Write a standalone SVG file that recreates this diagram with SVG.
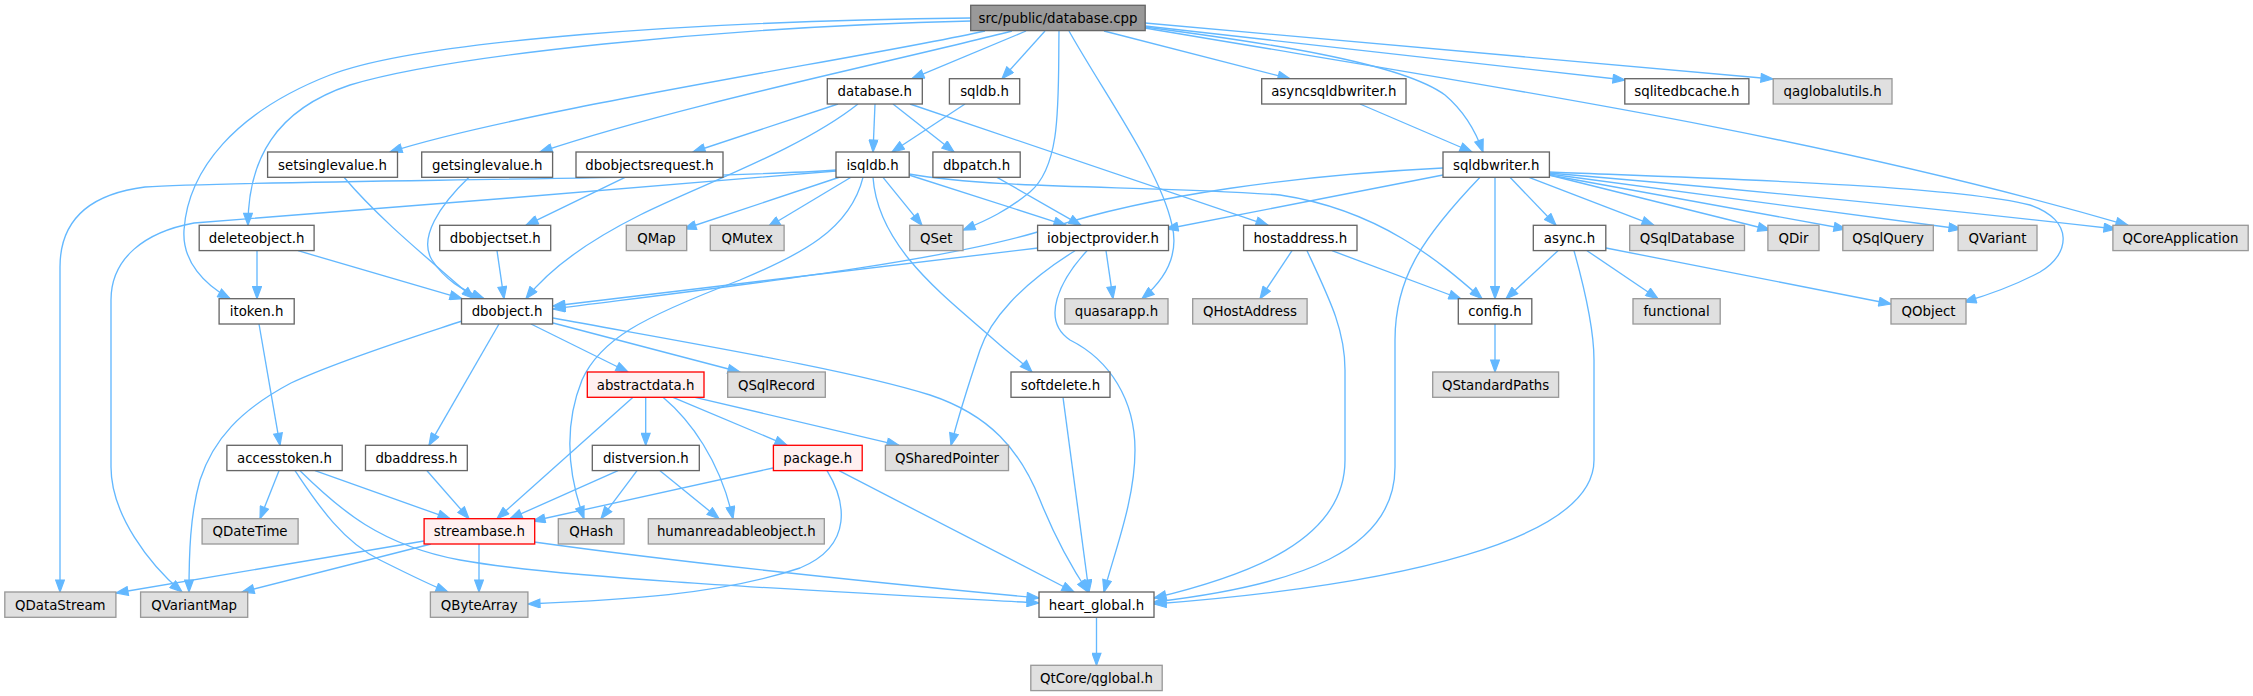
<svg xmlns="http://www.w3.org/2000/svg" width="2253" height="696" viewBox="0 0 2253 696">
<style>
rect{stroke-width:1.33}
.n rect{fill:#ffffff;stroke:#666666}
.x rect{fill:#e0e0e0;stroke:#999999}
.r rect{fill:#fff0f0;stroke:#ff0000}
.root rect{fill:#999999;stroke:#666666}
text{font-family:"DejaVu Sans","Liberation Sans",sans-serif;font-size:13.33px;text-anchor:middle;fill:#000000}
#edges path{fill:none;stroke:#63b8ff;stroke-width:1.33;marker-end:url(#a)}
</style>
<defs>
<marker id="a" markerUnits="userSpaceOnUse" viewBox="0 0 14 10" markerWidth="14" markerHeight="10" refX="13" refY="5" orient="auto">
<path d="M1,0.6 L13,5 L1,9.4 z" fill="#63b8ff" stroke="#63b8ff" stroke-width="1.2"/>
</marker>
</defs>
<rect width="2253" height="696" fill="#ffffff"/>
<g id="edges">
<path d="M1026,31 L912,78.7"/>
<path d="M1045,31 L1002,78.7"/>
<path d="M1059,31 C1058,100 1062,165 1030,192 C1008,210 988,220 963,230"/>
<path d="M1069,31 C1105,95 1160,170 1172,225 C1180,258 1162,282 1142,298.7"/>
<path d="M1104,31 L1290,78.7"/>
<path d="M1145,27 C1260,42 1400,62 1445,95 C1465,112 1476,132 1483,152"/>
<path d="M1145,26 L1625,80"/>
<path d="M1145,23 L1773,79"/>
<path d="M1145,28 C1450,80 1800,130 2128,225.3"/>
<path d="M985,31 C880,55 520,110 390,152"/>
<path d="M1012,31 C900,60 680,105 540,152"/>
<path d="M971,21 C720,27 450,55 350,85 C275,110 248,160 248,225.3"/>
<path d="M971,18 C700,21 420,40 330,75 C235,112 188,170 184,230 C182,262 205,285 230,298.7"/>
<path d="M875,104 L873,152"/>
<path d="M893,104 L954,152"/>
<path d="M910,104 L1268,225.3"/>
<path d="M838,104 L693,152"/>
<path d="M858,104 C800,150 700,185 640,215 C590,240 550,268 526,298.7"/>
<path d="M965,104 L892,152"/>
<path d="M1360,104 L1472,152"/>
<path d="M625,177.3 L526,225.3"/>
<path d="M344,177.3 C380,220 430,260 474,298.7"/>
<path d="M469,177.3 C440,205 418,238 432,260 C445,280 462,290 484,298.7"/>
<path d="M257,250.7 L257,298.7"/>
<path d="M298,250.7 L462,298.7"/>
<path d="M497,250.7 L504,298.7"/>
<path d="M836,170 C700,180 250,180 145,187 C90,194 60,220 60,267 L60,592"/>
<path d="M836,171 C760,178 300,215 194,223 C145,232 111,258 111,300 L111,467 C111,515 150,565 182,592"/>
<path d="M840,177 L684,229"/>
<path d="M851,177.3 L768,227"/>
<path d="M883,177.3 L922,225.3"/>
<path d="M909,175 L1066,225.3"/>
<path d="M909,174 C1000,190 1150,185 1280,195 C1380,210 1440,262 1482,298.7"/>
<path d="M863,177.3 C850,230 800,255 740,280 C640,318 600,340 582,380 C562,430 570,480 584,518.7"/>
<path d="M873,177.3 C878,250 950,300 1000,345 C1014,357 1024,364 1032,372"/>
<path d="M997,177.3 L1081,225.3"/>
<path d="M1038,248 L553,306"/>
<path d="M1443,168 C1300,175 1150,195 1050,228 C950,262 700,290 553,309"/>
<path d="M1443,175 L1166,229"/>
<path d="M1495,177.3 L1495,298.7"/>
<path d="M1480,177.3 C1420,240 1395,280 1395,340 L1395,467 C1395,550 1300,585 1154,602"/>
<path d="M1510,177.3 L1556,225.3"/>
<path d="M1529,177.3 L1654,225.3"/>
<path d="M1549,175 L1770,230"/>
<path d="M1549,175 L1846,229"/>
<path d="M1549,174 L1961,229"/>
<path d="M1549,173 C1750,190 1950,210 2116,229"/>
<path d="M1549,172 C1700,178 1950,185 2030,205 C2075,220 2070,255 2040,272 C2012,287 1988,295 1964,302"/>
<path d="M1558,250.7 L1506,298.7"/>
<path d="M1587,250.7 L1658,298.7"/>
<path d="M1606,248 L1891,304"/>
<path d="M1574,250.7 C1585,290 1594,330 1594,360 L1594,460 C1594,540 1400,585 1154,604"/>
<path d="M1292,250.7 L1260,298.7"/>
<path d="M1332,250.7 L1461,299"/>
<path d="M1307,250.7 C1330,300 1345,330 1345,370 L1345,460 C1345,540 1250,575 1154,598"/>
<path d="M1106,250.7 L1113,298.7"/>
<path d="M1075,250.7 C1020,285 990,320 980,350 C970,380 960,410 951,445.3"/>
<path d="M1087,250.7 C1060,280 1040,320 1070,340 C1110,360 1135,400 1135,450 C1135,500 1115,550 1104,592"/>
<path d="M553,318 C700,345 850,370 930,395 C990,415 1020,450 1040,500 C1060,550 1080,580 1088,592"/>
<path d="M462,321 C420,335 340,360 291,383 C240,410 213,440 200,480 C190,515 189,555 189,592"/>
<path d="M499,324 L429,445.3"/>
<path d="M531,324 L628,372"/>
<path d="M553,323 L740,372"/>
<path d="M259,324 L280,445.3"/>
<path d="M633,397.3 L497,518.7"/>
<path d="M645.7,397.3 L645.7,445.3"/>
<path d="M663,397.3 C690,420 720,460 733,518.7"/>
<path d="M673,397.3 L787,445.3"/>
<path d="M695,397.3 L899,445.3"/>
<path d="M618,470.7 L510,518.7"/>
<path d="M637,470.7 L601,518.7"/>
<path d="M660,470.7 L719,518.7"/>
<path d="M773,468 L533,521"/>
<path d="M827,470.7 C845,500 855,545 800,568 C720,595 620,600 528,604"/>
<path d="M839,470.7 L1074,592"/>
<path d="M427,470.7 L469,518.7"/>
<path d="M279,470.7 L260,518.7"/>
<path d="M315,470.7 L450,518.7"/>
<path d="M295,470.7 C315,500 340,540 380,560 C410,575 430,585 448,592"/>
<path d="M300,470.7 C340,510 380,545 460,560 C560,578 800,590 1039,603"/>
<path d="M424,541 L116,593"/>
<path d="M431,544 L242,592"/>
<path d="M479,544 L479,592"/>
<path d="M534,542 C700,565 900,585 1039,598"/>
<path d="M1063,397.3 L1089,592"/>
<path d="M1495,324 L1495,372"/>
<path d="M1096.5,617.3 L1096.5,665.3"/>
</g>
<g id="node_database_cpp" class="root"><rect x="970.7" y="5.3" width="174.5" height="25.3"/><text x="1058" y="22.8">src/public/database.cpp</text></g>
<g id="node_database_h" class="n"><rect x="827.3" y="78.7" width="95" height="25.3"/><text x="874.8" y="96.2">database.h</text></g>
<g id="node_sqldb_h" class="n"><rect x="949.4" y="78.7" width="70.3" height="25.3"/><text x="984.5" y="96.2">sqldb.h</text></g>
<g id="node_asyncsqldbwriter_h" class="n"><rect x="1261.7" y="78.7" width="144.3" height="25.3"/><text x="1333.8" y="96.2">asyncsqldbwriter.h</text></g>
<g id="node_sqlitedbcache_h" class="n"><rect x="1624.8" y="78.7" width="124.1" height="25.3"/><text x="1686.9" y="96.2">sqlitedbcache.h</text></g>
<g id="node_qaglobalutils_h" class="x"><rect x="1773.2" y="78.7" width="118.8" height="25.3"/><text x="1832.6" y="96.2">qaglobalutils.h</text></g>
<g id="node_setsinglevalue_h" class="n"><rect x="267.6" y="152" width="129.9" height="25.3"/><text x="332.5" y="169.5">setsinglevalue.h</text></g>
<g id="node_getsinglevalue_h" class="n"><rect x="421.7" y="152" width="130.9" height="25.3"/><text x="487.2" y="169.5">getsinglevalue.h</text></g>
<g id="node_dbobjectsrequest_h" class="n"><rect x="576" y="152" width="147" height="25.3"/><text x="649.5" y="169.5">dbobjectsrequest.h</text></g>
<g id="node_isqldb_h" class="n"><rect x="836" y="152" width="73.2" height="25.3"/><text x="872.6" y="169.5">isqldb.h</text></g>
<g id="node_dbpatch_h" class="n"><rect x="932.9" y="152" width="87.3" height="25.3"/><text x="976.5" y="169.5">dbpatch.h</text></g>
<g id="node_sqldbwriter_h" class="n"><rect x="1443" y="152" width="106.4" height="25.3"/><text x="1496.2" y="169.5">sqldbwriter.h</text></g>
<g id="node_deleteobject_h" class="n"><rect x="199.2" y="225.3" width="114.9" height="25.3"/><text x="256.6" y="242.8">deleteobject.h</text></g>
<g id="node_dbobjectset_h" class="n"><rect x="439.7" y="225.3" width="111" height="25.3"/><text x="495.2" y="242.8">dbobjectset.h</text></g>
<g id="node_QMap" class="x"><rect x="626.3" y="225.3" width="60.4" height="25.3"/><text x="656.5" y="242.8">QMap</text></g>
<g id="node_QMutex" class="x"><rect x="710.3" y="225.3" width="73.8" height="25.3"/><text x="747.2" y="242.8">QMutex</text></g>
<g id="node_QSet" class="x"><rect x="909.7" y="225.3" width="53.3" height="25.3"/><text x="936.3" y="242.8">QSet</text></g>
<g id="node_iobjectprovider_h" class="n"><rect x="1037.6" y="225.3" width="130.9" height="25.3"/><text x="1103" y="242.8">iobjectprovider.h</text></g>
<g id="node_hostaddress_h" class="n"><rect x="1243.6" y="225.3" width="113.4" height="25.3"/><text x="1300.3" y="242.8">hostaddress.h</text></g>
<g id="node_async_h" class="n"><rect x="1533.3" y="225.3" width="72.5" height="25.3"/><text x="1569.5" y="242.8">async.h</text></g>
<g id="node_QSqlDatabase" class="x"><rect x="1629.7" y="225.3" width="114.8" height="25.3"/><text x="1687.1" y="242.8">QSqlDatabase</text></g>
<g id="node_QDir" class="x"><rect x="1767.9" y="225.3" width="51.1" height="25.3"/><text x="1793.4" y="242.8">QDir</text></g>
<g id="node_QSqlQuery" class="x"><rect x="1842.8" y="225.3" width="90.5" height="25.3"/><text x="1888" y="242.8">QSqlQuery</text></g>
<g id="node_QVariant" class="x"><rect x="1958.1" y="225.3" width="78.9" height="25.3"/><text x="1997.5" y="242.8">QVariant</text></g>
<g id="node_QCoreApplication" class="x"><rect x="2112.9" y="225.3" width="135.3" height="25.3"/><text x="2180.5" y="242.8">QCoreApplication</text></g>
<g id="node_itoken_h" class="n"><rect x="219.1" y="298.7" width="75.1" height="25.3"/><text x="256.6" y="316.2">itoken.h</text></g>
<g id="node_dbobject_h" class="n"><rect x="461.5" y="298.7" width="91.1" height="25.3"/><text x="507" y="316.2">dbobject.h</text></g>
<g id="node_quasarapp_h" class="x"><rect x="1064.8" y="298.7" width="103.2" height="25.3"/><text x="1116.4" y="316.2">quasarapp.h</text></g>
<g id="node_QHostAddress" class="x"><rect x="1192.7" y="298.7" width="114.4" height="25.3"/><text x="1249.9" y="316.2">QHostAddress</text></g>
<g id="node_config_h" class="n"><rect x="1458.3" y="298.7" width="73.5" height="25.3"/><text x="1495" y="316.2">config.h</text></g>
<g id="node_functional" class="x"><rect x="1633" y="298.7" width="87.2" height="25.3"/><text x="1676.6" y="316.2">functional</text></g>
<g id="node_QObject" class="x"><rect x="1891" y="298.7" width="75" height="25.3"/><text x="1928.5" y="316.2">QObject</text></g>
<g id="node_abstractdata_h" class="r"><rect x="587.3" y="372" width="116.7" height="25.3"/><text x="645.6" y="389.5">abstractdata.h</text></g>
<g id="node_QSqlRecord" class="x"><rect x="727.7" y="372" width="97.6" height="25.3"/><text x="776.5" y="389.5">QSqlRecord</text></g>
<g id="node_softdelete_h" class="n"><rect x="1011" y="372" width="99" height="25.3"/><text x="1060.5" y="389.5">softdelete.h</text></g>
<g id="node_QStandardPaths" class="x"><rect x="1432.7" y="372" width="125.9" height="25.3"/><text x="1495.6" y="389.5">QStandardPaths</text></g>
<g id="node_accesstoken_h" class="n"><rect x="226.9" y="445.3" width="115.3" height="25.3"/><text x="284.5" y="462.8">accesstoken.h</text></g>
<g id="node_dbaddress_h" class="n"><rect x="365.5" y="445.3" width="101.8" height="25.3"/><text x="416.4" y="462.8">dbaddress.h</text></g>
<g id="node_distversion_h" class="n"><rect x="592.3" y="445.3" width="107" height="25.3"/><text x="645.8" y="462.8">distversion.h</text></g>
<g id="node_package_h" class="r"><rect x="773.4" y="445.3" width="88.8" height="25.3"/><text x="817.8" y="462.8">package.h</text></g>
<g id="node_QSharedPointer" class="x"><rect x="885.4" y="445.3" width="123.1" height="25.3"/><text x="947" y="462.8">QSharedPointer</text></g>
<g id="node_QDateTime" class="x"><rect x="202.1" y="518.7" width="96" height="25.3"/><text x="250.1" y="536.2">QDateTime</text></g>
<g id="node_streambase_h" class="r"><rect x="424.1" y="518.7" width="110.6" height="25.3"/><text x="479.4" y="536.2">streambase.h</text></g>
<g id="node_QHash" class="x"><rect x="558.3" y="518.7" width="65.7" height="25.3"/><text x="591.2" y="536.2">QHash</text></g>
<g id="node_humanreadableobject_h" class="x"><rect x="648.3" y="518.7" width="176" height="25.3"/><text x="736.3" y="536.2">humanreadableobject.h</text></g>
<g id="node_QDataStream" class="x"><rect x="4.8" y="592" width="111.1" height="25.3"/><text x="60.3" y="609.5">QDataStream</text></g>
<g id="node_QVariantMap" class="x"><rect x="140.6" y="592" width="107.1" height="25.3"/><text x="194.1" y="609.5">QVariantMap</text></g>
<g id="node_QByteArray" class="x"><rect x="430.4" y="592" width="97.5" height="25.3"/><text x="479.2" y="609.5">QByteArray</text></g>
<g id="node_heart_global_h" class="n"><rect x="1039" y="592" width="115" height="25.3"/><text x="1096.5" y="609.5">heart_global.h</text></g>
<g id="node_QtCore_qglobal_h" class="x"><rect x="1030.8" y="665.3" width="131.4" height="25.3"/><text x="1096.5" y="682.8">QtCore/qglobal.h</text></g>
</svg>
